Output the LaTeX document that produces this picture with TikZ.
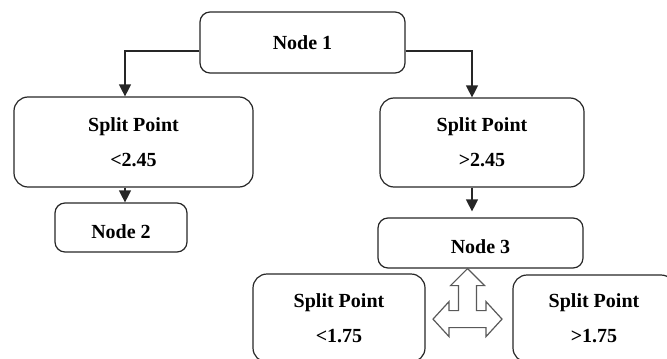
\documentclass[tikz,border=0pt]{standalone}
\usepackage{fontspec}
\setmainfont{Liberation Serif}
\usepackage{tikz}
\usetikzlibrary{arrows.meta}

\begin{document}
\begin{tikzpicture}[x=0.5pt,y=-0.5pt,
	box/.style={draw=black!85,line width=0.6pt,rounded corners=5pt,align=center,
		font=\fontsize{10}{12}\selectfont\bfseries,inner sep=0pt},
	lowtext/.style={execute at begin node={\rule{0pt}{11pt}}},
	splitbox/.style={box,lowtext,rounded corners=7pt},
	arr/.style={draw=black!85,line width=0.6pt,-{Triangle[width=6pt,length=6pt]}},
	teearrow/.style={draw=black!65,line width=0.6pt,fill=white,line join=miter}]
			\useasboundingbox (0,0) rectangle (667,358);
			% top level
			\node[box,minimum width=102.5pt,minimum height=30.5pt] (n1) at (302.5,42.5) {Node 1};
			\node[splitbox,minimum width=119.5pt,minimum height=45pt] (sp1) at (133.5,142) {Split Point\\[5.5pt]<2.45};
			\node[splitbox,minimum width=102pt,minimum height=44.5pt] (sp2) at (482,142.5) {Split Point\\[5.5pt]>2.45};
			% second level
			\node[box,lowtext,minimum width=66pt,minimum height=24.5pt] (n2) at (121,227.5) {Node 2};
			\node[box,lowtext,minimum width=102.5pt,minimum height=25pt] (n3) at (480.5,243) {Node 3};
			\node[splitbox,minimum width=86pt,minimum height=44pt] (sp3) at (339,318) {Split Point\\[5.5pt]<1.75};
			\node[splitbox,minimum width=81pt,minimum height=43.5pt] (sp4) at (594,318.5) {Split Point\\[5.5pt]>1.75};
			% connectors
			\draw[arr] ([yshift=-4.25pt]n1.west) -| ([xshift=-4.25pt]sp1.north);
			\draw[arr] ([yshift=-4.25pt]n1.east) -| ([xshift=-5pt]sp2.north);
			\draw[arr] ([xshift=-4.25pt]sp1.south) -- ([xshift=-4.25pt]sp1.south |- n2.north);
			\draw[arr,shorten >=3pt] ([xshift=-5pt]sp2.south) -- ([xshift=-5pt]sp2.south |- n3.north);
			% three way arrow below node 3
			\coordinate (tee) at ([xshift=-6.5pt]n3.south);
			\draw[teearrow] (tee) -- ++(17,17) -- ++(-8,0) -- ++(0,25) -- ++(9.5,0) -- ++(0,-9)
				-- ++(16,17.5) -- ++(-16,17.5) -- ++(0,-9) -- ++(-37,0) -- ++(0,9)
				-- ++(-16,-17.5) -- ++(16,-17.5) -- ++(0,9) -- ++(9.5,0) -- ++(0,-25) -- ++(-8,0) -- cycle;
\end{tikzpicture}
\end{document}
